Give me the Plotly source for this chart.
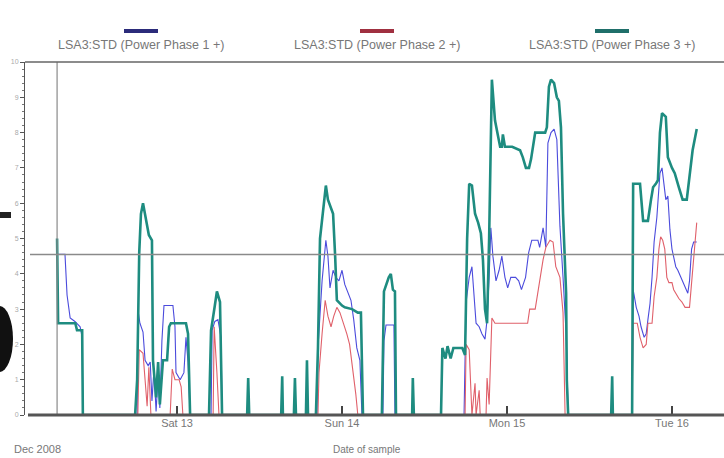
import pandas as pd
import plotly.graph_objects as go

# ---------------- data (hours since 2008-12-12 00:00, value) ----------------
START = pd.Timestamp("2008-12-12 00:00")
SERIES_NAMES = ["LSA3:STD (Power Phase 1 +)",
                "LSA3:STD (Power Phase 2 +)",
                "LSA3:STD (Power Phase 3 +)"]

P1_HOURS = [6.55, 7.7, 8.0, 8.45, 9.15, 9.9, 10.2, 10.3, 18.2, 18.3, 18.6, 19.05, 19.35, 19.8,
            20.1, 20.35, 20.65, 20.95, 21.25, 21.5, 21.8, 22.1, 23.4, 23.7, 23.85, 24.45, 25.0,
            25.3, 25.6, 25.9, 28.95, 29.1, 29.5, 29.95, 30.4, 30.55, 44.35, 44.5, 45.1, 45.65,
            45.95, 46.25, 46.7, 47.1, 47.55, 48.0, 48.4, 48.85, 49.3, 49.7, 50.15, 50.6, 50.9,
            53.95, 54.1, 54.4, 55.55, 55.7, 65.75, 66.05, 66.5, 66.9, 67.2, 67.5, 67.95, 68.35,
            68.8, 69.1, 69.4, 69.65, 69.95, 70.4, 70.85, 71.25, 71.7, 72.1, 72.55, 73.25, 73.7,
            74.1, 74.7, 75.15, 75.6, 76.5, 76.75, 77.25, 77.65, 77.95, 78.4, 78.85, 79.25, 79.4,
            79.7, 80.15, 80.6, 80.9, 90.2, 90.35, 90.8, 91.2, 91.5, 91.95, 92.25, 92.5, 92.8,
            93.1, 93.4, 93.8, 94.25, 94.55, 94.8, 95.1, 95.4, 95.7, 96.0, 96.25, 96.55, 96.85,
            97.3, 97.55, 98.0, 98.3, 98.55, 98.85, 99.15, 99.6]
P1_VALUES = [4.55, 4.55, 3.4, 2.75, 2.65, 2.5, 2.2, 0, 0, 3.0, 2.6, 2.35, 1.55, 1.4,
             1.5, 0.4, 1.3, 0.1, 1.1, 0.2, 2.1, 3.1, 3.1, 2.5, 1.2, 1.0, 1.2,
             2.2, 1.5, 0, 0, 2.4, 2.65, 2.7, 2.2, 0, 0, 1.9, 3.8, 4.95,
             4.5, 3.6, 4.1, 3.9, 3.8, 4.1, 3.7, 3.45, 3.25, 2.7, 1.9, 1.55, 0,
             0, 2.1, 2.55, 2.55, 0, 0, 3.2, 3.9, 4.2, 3.45, 2.6, 2.5, 2.3,
             2.15, 2.7, 3.9, 5.3, 4.5, 3.8, 4.1, 4.5, 3.9, 3.6, 3.9, 3.9, 3.8,
             3.55, 3.9, 4.6, 4.95, 4.95, 4.75, 5.3, 4.75, 7.7, 8.0, 8.1, 7.8, 6.75,
             5.35, 3.9, 2.3, 0, 0, 3.55, 3.05, 2.8, 2.5, 2.2, 2.3, 2.7, 3.15,
             3.9, 4.9, 5.6, 6.85, 7.0, 6.6, 6.1, 6.2, 5.25, 4.7, 4.5, 4.2, 4.1,
             3.9, 3.8, 3.55, 3.45, 3.8, 4.7, 4.9, 4.9]

P2_HOURS = [6.55, 18.3, 18.5, 19.05, 19.35, 19.65, 19.9, 20.2, 23.0, 23.3, 23.7, 24.3, 24.6,
            24.85, 29.25, 29.4, 29.8, 30.1, 44.5, 44.65, 45.1, 45.55, 45.95, 46.4, 46.8, 47.25,
            47.7, 48.25, 48.7, 49.1, 49.55, 50.0, 50.3, 65.9, 66.05, 66.5, 66.9, 67.35, 67.5,
            67.95, 68.1, 68.95, 69.1, 69.4, 69.8, 70.25, 75.0, 75.3, 76.1, 76.5, 77.25, 77.65,
            78.25, 78.7, 79.1, 79.7, 80.15, 80.45, 90.2, 90.35, 90.95, 91.35, 91.8, 92.25, 92.5,
            93.1, 93.4, 93.8, 94.1, 94.35, 94.65, 94.95, 95.25, 95.55, 96.0, 96.25, 96.55, 97.0,
            97.45, 97.9, 98.55, 98.85, 99.25, 99.6]
P2_VALUES = [0, 0, 1.85, 1.75, 1.0, 0.25, 1.35, 0, 0, 1.3, 1.0, 1.0, 0.8,
             0, 0, 2.5, 1.2, 0, 0, 1.2, 2.3, 3.25, 2.8, 2.5, 2.8, 3.05,
             2.9, 2.6, 2.3, 2.0, 1.35, 0.6, 0, 0, 2.0, 1.85, 0, 0.9, 0,
             0.7, 0, 0, 1.05, 0.3, 2.75, 2.6, 2.6, 3.0, 3.0, 3.5, 4.4, 4.75,
             4.95, 4.9, 4.2, 3.9, 2.9, 0, 0, 2.6, 2.6, 2.2, 1.9, 2.0, 2.6,
             2.6, 3.35, 3.9, 4.7, 5.05, 4.95, 4.7, 3.9, 3.75, 3.75, 3.55, 3.45, 3.3,
             3.2, 3.05, 3.05, 3.8, 4.7, 5.45]

P3_HOURS = [6.55, 6.7, 9.2, 9.45, 10.2, 10.3, 17.9, 18.2, 18.5, 18.75, 19.05, 19.5, 19.9, 20.35,
            20.5, 20.95, 21.25, 21.5, 21.95, 22.55, 22.85, 23.1, 25.3, 25.6, 25.9, 28.65, 28.95,
            29.5, 29.8, 30.25, 30.55, 34.2, 34.35, 34.5, 39.15, 39.3, 39.4, 41.0, 41.15, 41.3,
            42.75, 42.9, 43.05, 44.2, 44.5, 44.8, 45.25, 45.65, 45.95, 46.4, 46.7, 47.0, 47.25,
            48.0, 48.4, 49.45, 50.3, 50.75, 51.05, 53.8, 54.1, 54.8, 55.1, 55.4, 55.7, 55.85,
            58.2, 58.3, 58.45, 62.4, 62.6, 63.05, 63.35, 63.8, 64.2, 65.5, 65.9, 66.2, 66.5,
            66.9, 67.35, 67.8, 68.2, 68.5, 68.8, 69.1, 69.4, 69.8, 70.25, 70.7, 71.0, 71.25,
            71.4, 71.7, 72.75, 73.9, 74.3, 74.75, 75.2, 75.5, 75.8, 76.1, 77.55, 77.8, 78.1,
            78.4, 78.85, 79.25, 79.55, 79.85, 80.15, 80.6, 80.7, 80.9, 87.15, 87.3, 87.4, 90.2,
            90.35, 91.35, 91.8, 92.5, 92.95, 93.25, 93.65, 93.95, 94.25, 94.55, 95.1, 95.4,
            96.0, 96.4, 97.0, 97.55, 98.15, 98.55, 99.0, 99.6]
P3_VALUES = [5.0, 2.6, 2.6, 2.4, 2.4, 0, 0, 1.0, 4.6, 5.7, 6.0, 5.5, 5.1, 4.95,
             1.55, 0.5, 1.5, 0.3, 1.55, 1.55, 2.5, 2.6, 2.6, 2.3, 0, 0, 2.4,
             3.1, 3.5, 3.2, 0, 0, 1.05, 0, 0, 1.1, 0, 0, 1.05, 0,
             0, 1.55, 0, 0, 1.9, 5.0, 5.8, 6.5, 6.1, 5.85, 5.7, 4.5, 3.25,
             3.1, 3.05, 3.0, 2.9, 2.9, 0, 0, 3.5, 3.9, 4.0, 3.55, 3.5, 0,
             0, 1.05, 0, 0, 1.9, 1.6, 1.95, 1.6, 1.9, 1.9, 1.7, 5.0, 6.55,
             6.5, 5.7, 5.45, 5.15, 4.4, 3.0, 2.6, 5.0, 9.5, 8.35, 7.9, 7.6, 7.6,
             7.95, 7.6, 7.6, 7.5, 7.3, 7.0, 7.0, 7.25, 7.6, 8.0, 8.0, 8.15, 9.3,
             9.5, 9.4, 9.0, 8.9, 8.15, 5.7, 3.45, 1.0, 0, 0, 1.1, 0, 0,
             6.55, 6.55, 5.5, 5.5, 6.1, 6.45, 6.55, 6.65, 8.0, 8.55, 8.45, 7.3,
             7.0, 6.85, 6.45, 6.1, 6.1, 6.85, 7.5, 8.1]

THRESHOLD = 4.55
Y_TICKS = list(range(0, 11))
X_RANGE = ["2008-12-12 01:53", "2008-12-16 07:34"]

COLORS = ["#4b4bdc", "#e0606a", "#1e8c80"]
LEGEND_COLORS = ["#2b2b7a", "#a03040", "#1f6f6a"]
WIDTHS = [1.1, 1.1, 2.6]

# ---------------- figure ----------------
def to_time(hours):
    return START + pd.to_timedelta(pd.Series(hours), unit="h")

series = [(P1_HOURS, P1_VALUES), (P2_HOURS, P2_VALUES), (P3_HOURS, P3_VALUES)]
fig = go.Figure()
for (h, v), name, col, w in zip(series, SERIES_NAMES, COLORS, WIDTHS):
    fig.add_trace(go.Scatter(x=to_time(h), y=v, mode="lines", name=name,
                             line=dict(color=col, width=w), showlegend=False))

W, H = 724, 458
ML, MR, MT, MB = 25, 0, 62, 43
PW, PH = W - ML - MR, H - MT - MB

def px(xp):
    return (xp - ML) / PW

def py(yp):
    return (H - MB - yp) / PH

font = "Liberation Sans, Arial, sans-serif"
shapes = []
annotations = []

# legend drawn as bar above text
for name, col, cx in zip(SERIES_NAMES, LEGEND_COLORS, [141, 377, 612]):
    shapes.append(dict(type="rect", xref="paper", yref="paper",
                       x0=px(cx - 17), x1=px(cx + 17), y0=py(33), y1=py(29),
                       fillcolor=col, line=dict(width=0)))
    annotations.append(dict(text=name, xref="paper", yref="paper", x=px(cx), y=py(45),
                            showarrow=False, xanchor="center", yanchor="middle",
                            font=dict(size=12.5, color="#777", family=font)))

# threshold line
shapes.append(dict(type="line", xref="paper", yref="y", x0=px(30), x1=1,
                   y0=THRESHOLD, y1=THRESHOLD, line=dict(color="#8a8a8a", width=1.5)))
# vertical marker at start of data
t0 = to_time(P1_HOURS)[0]
shapes.append(dict(type="line", xref="x", yref="paper", x0=t0, x1=t0, y0=0, y1=1,
                   line=dict(color="#8a8a8a", width=1.2)))
# top frame line
shapes.append(dict(type="line", xref="paper", yref="paper", x0=0, x1=1, y0=1, y1=1,
                   line=dict(color="#666", width=1.5)))
# bottom thick axis
shapes.append(dict(type="line", xref="paper", yref="paper", x0=px(28), x1=1, y0=0, y1=0,
                   line=dict(color="#555", width=3)))
# dark artefacts at the left edge
shapes.append(dict(type="circle", xref="paper", yref="paper",
                   x0=px(-14), x1=px(13), y0=py(372), y1=py(306),
                   fillcolor="#111", line=dict(width=0)))
shapes.append(dict(type="rect", xref="paper", yref="paper",
                   x0=px(0), x1=px(11), y0=py(218), y1=py(212),
                   fillcolor="#222", line=dict(width=0)))

annotations.append(dict(text="Dec 2008", xref="paper", yref="paper", x=px(12), y=py(449),
                        showarrow=False, xanchor="left", yanchor="middle",
                        font=dict(size=11, color="#777", family=font)))
annotations.append(dict(text="Date of sample", xref="paper", yref="paper", x=px(367), y=py(449),
                        showarrow=False, xanchor="center", yanchor="middle",
                        font=dict(size=10, color="#777", family=font)))

fig.update_layout(
    width=W, height=H,
    margin=dict(l=ML, r=MR, t=MT, b=MB),
    paper_bgcolor="white", plot_bgcolor="white",
    shapes=shapes, annotations=annotations,
    font=dict(family=font, color="#777"),
    xaxis=dict(type="date", range=X_RANGE, showgrid=False, zeroline=False,
               tick0="2008-12-13", dtick=86400000, tickformat="%a %d",
               ticks="inside", ticklen=9, tickwidth=1.5, tickcolor="#444",
               tickfont=dict(size=11, color="#777"), showline=False),
    yaxis=dict(range=[0, 10], tickvals=Y_TICKS, showgrid=False, zeroline=False,
               ticks="outside", ticklen=4, tickcolor="#555",
               minor=dict(dtick=0.2, ticks="outside", ticklen=2, tickcolor="#777"),
               showline=True, linecolor="#555", linewidth=1,
               tickfont=dict(size=7, color="#aaa")),
)

fig.write_html("out.html",
               config={"displayModeBar": False},
               post_script="document.body.style.margin='0';document.body.style.padding='0';"
                           "document.body.style.overflow='hidden';")
